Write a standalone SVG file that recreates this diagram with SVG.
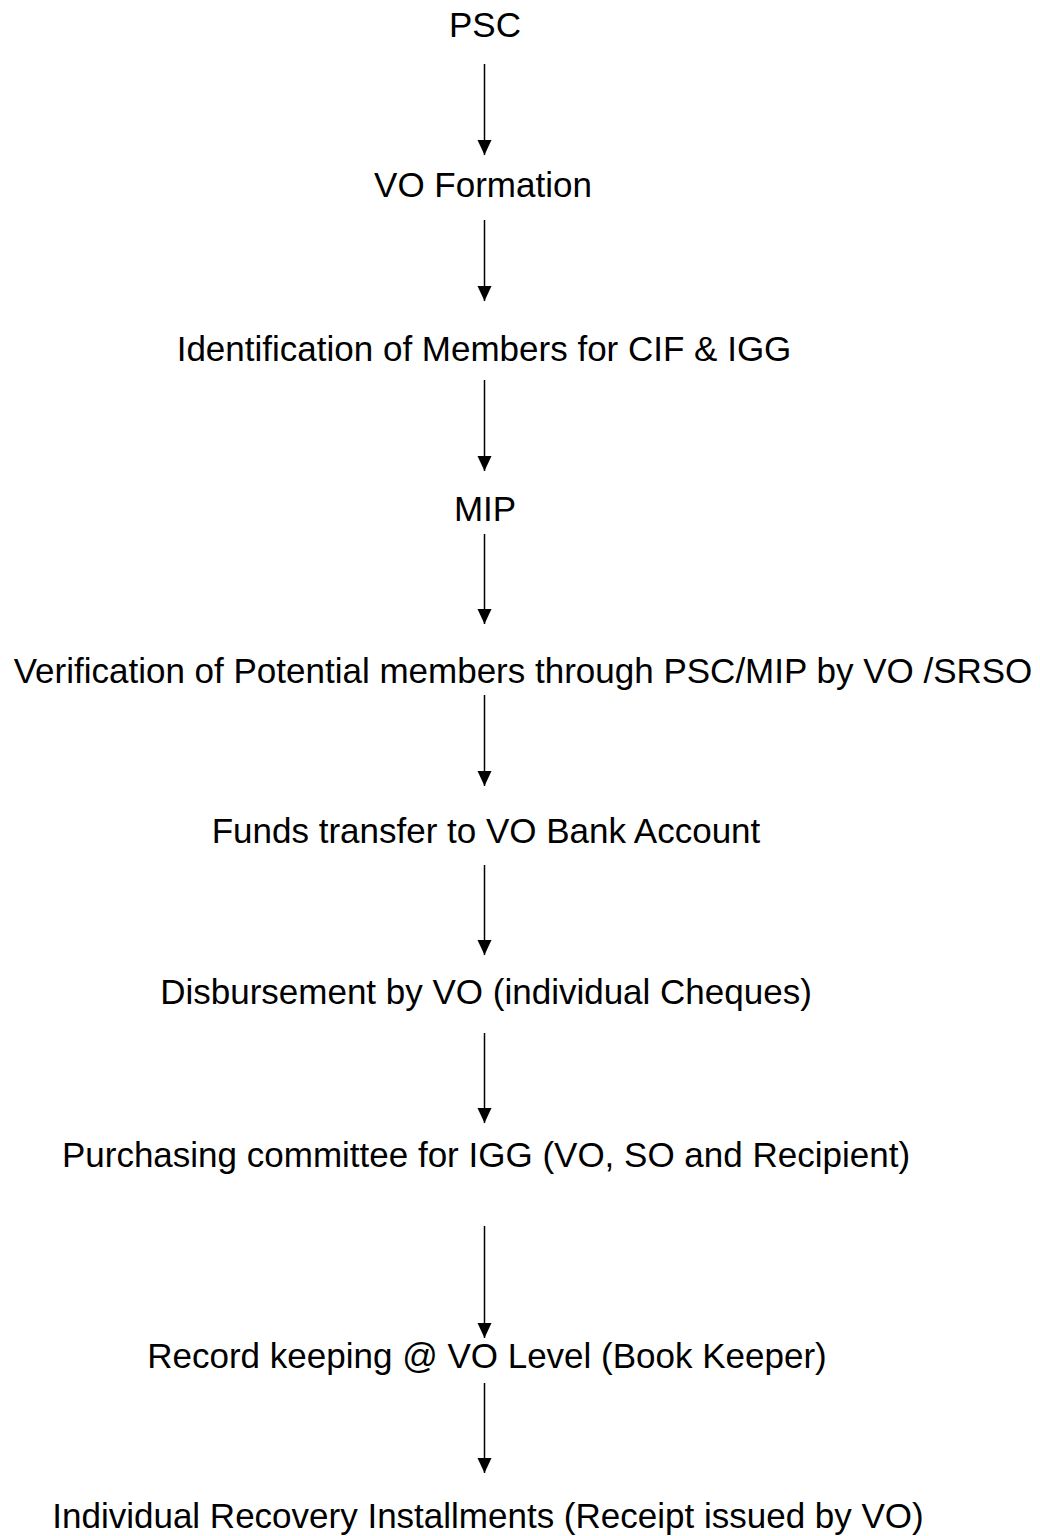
<svg xmlns="http://www.w3.org/2000/svg" width="1040" height="1536" viewBox="0 0 1040 1536">
<style>
.t{font-family:"Liberation Sans",Arial,sans-serif;font-size:35px;fill:#000;text-anchor:middle}
.c{stroke:#000;stroke-width:1.5;fill:none}
</style>
<defs>
<marker id="ah" markerUnits="userSpaceOnUse" markerWidth="16" markerHeight="16" refX="15" refY="7" orient="auto">
<path d="M0,0 L15,7 L0,14 Z" fill="#000"/>
</marker>
</defs>
<rect width="1040" height="1536" fill="#fff"/>
<g id="n1"><text class="t" x="485" y="37">PSC</text></g>
<g id="n2"><text class="t" x="483" y="197">VO Formation</text></g>
<g id="n3"><text class="t" x="484" y="361">Identification of Members for CIF &amp; IGG</text></g>
<g id="n4"><text class="t" x="485" y="521">MIP</text></g>
<g id="n5"><text class="t" x="523" y="683">Verification of Potential members through PSC/MIP by VO /SRSO</text></g>
<g id="n6"><text class="t" x="486" y="843">Funds transfer to VO Bank Account</text></g>
<g id="n7"><text class="t" x="486" y="1004">Disbursement by VO (individual Cheques)</text></g>
<g id="n8"><text class="t" x="486" y="1167">Purchasing committee for IGG (VO, SO and Recipient)</text></g>
<g id="n9"><text class="t" x="487" y="1368">Record keeping @ VO Level (Book Keeper)</text></g>
<g id="n10"><text class="t" x="488" y="1528">Individual Recovery Installments (Receipt issued by VO)</text></g>
<g id="connectors">
<line class="c" x1="484.5" y1="64" x2="484.5" y2="155" marker-end="url(#ah)"/>
<line class="c" x1="484.5" y1="220" x2="484.5" y2="301" marker-end="url(#ah)"/>
<line class="c" x1="484.5" y1="380" x2="484.5" y2="471" marker-end="url(#ah)"/>
<line class="c" x1="484.5" y1="534" x2="484.5" y2="624" marker-end="url(#ah)"/>
<line class="c" x1="484.5" y1="695" x2="484.5" y2="786" marker-end="url(#ah)"/>
<line class="c" x1="484.5" y1="865" x2="484.5" y2="955" marker-end="url(#ah)"/>
<line class="c" x1="484.5" y1="1033" x2="484.5" y2="1123" marker-end="url(#ah)"/>
<line class="c" x1="484.5" y1="1226" x2="484.5" y2="1338" marker-end="url(#ah)"/>
<line class="c" x1="484.5" y1="1383" x2="484.5" y2="1473" marker-end="url(#ah)"/>
</g>
</svg>
